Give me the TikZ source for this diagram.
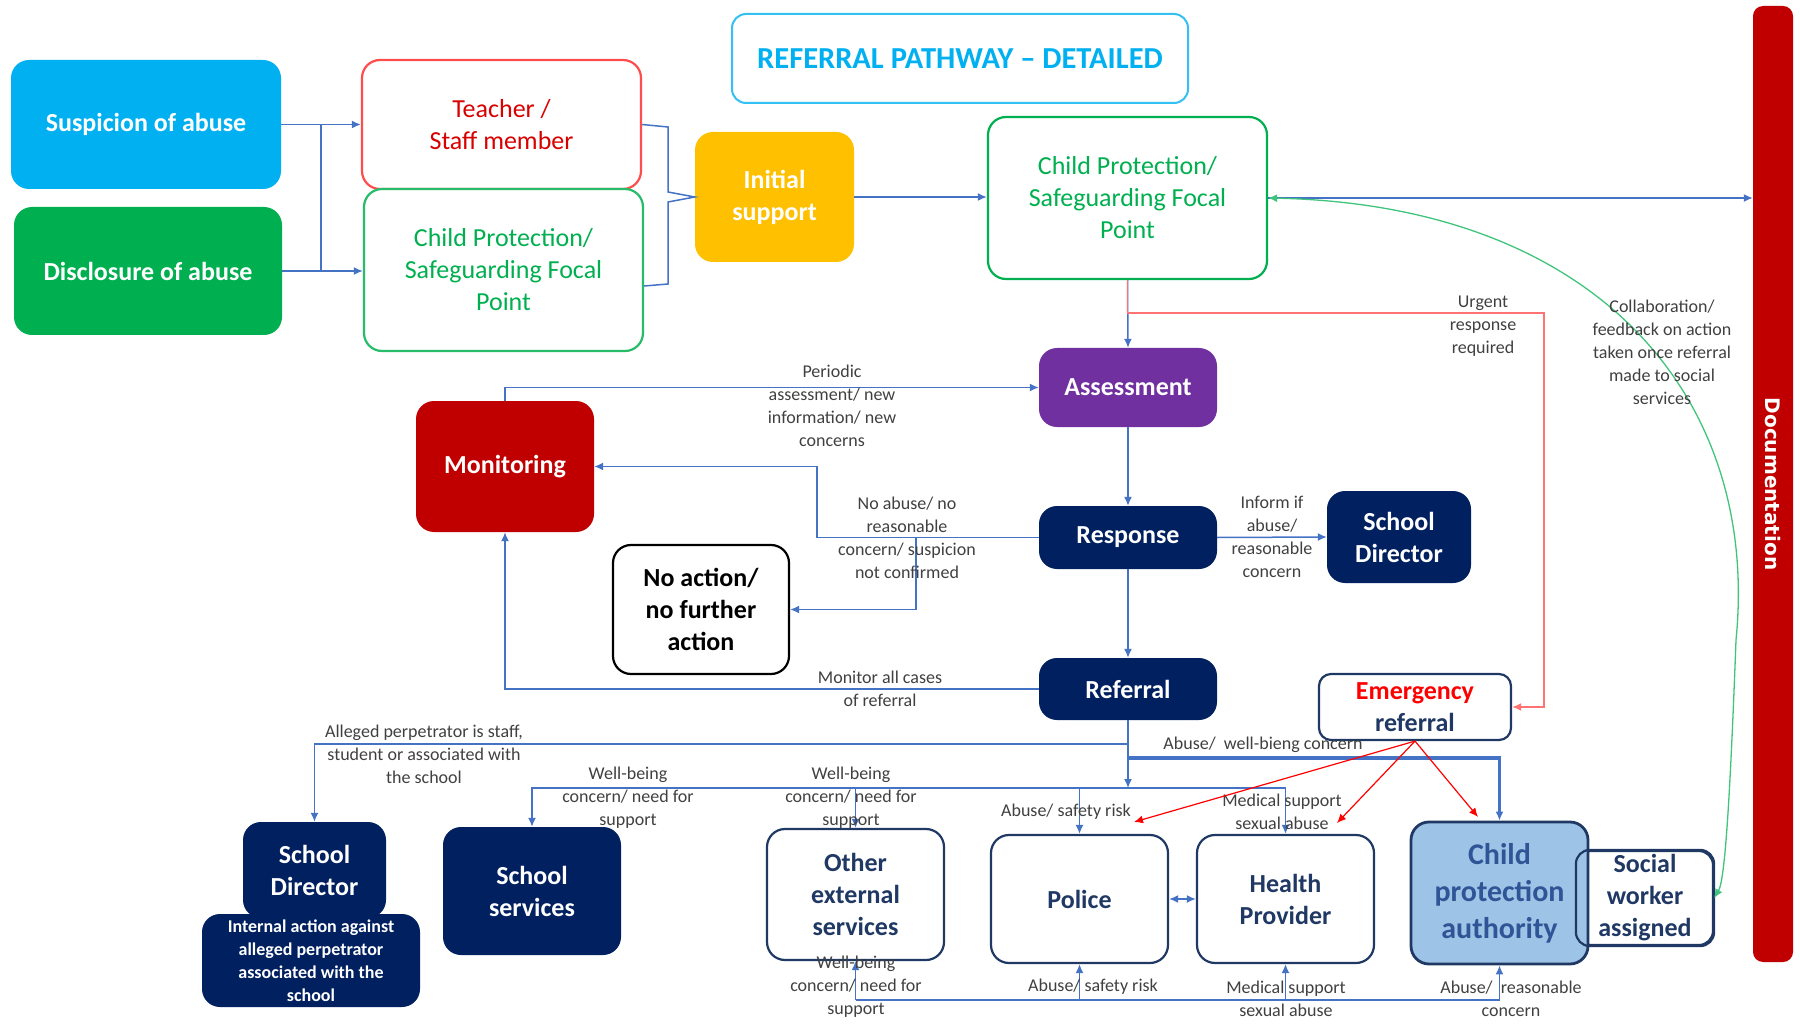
\documentclass[tikz,border=0pt]{standalone}
\usepackage{fontspec}
\setmainfont{Carlito}
\newfontfamily\docfont{DejaVu Sans}
\usetikzlibrary{arrows.meta}

\definecolor{navy}{HTML}{002060}
\definecolor{linkblue}{HTML}{4472C4}
\definecolor{skyfill}{HTML}{00B0F0}
\definecolor{leafgreen}{HTML}{00B050}
\definecolor{amber}{HTML}{FFC000}
\definecolor{plum}{HTML}{7030A0}
\definecolor{darkred}{HTML}{C00000}
\definecolor{paleblue}{HTML}{9DC3E6}
\definecolor{midnavy}{HTML}{2F5597}
\definecolor{edgenavy}{HTML}{203864}
\definecolor{labelgrey}{HTML}{404040}

\tikzset{
  boxsize/.style 2 args={minimum width=#1pt, minimum height=#2pt},
  bigbold/.style={font=\fontsize{26}{32}\selectfont\bfseries},
  bigplain/.style={font=\fontsize{26}{32}\selectfont},
  fillbox/.style={rounded corners=18pt, align=center, text=white, inner sep=0pt, bigbold},
  linebox/.style={rounded corners=18pt, align=center, fill=white, line width=2.2pt, inner sep=0pt},
  whitebox/.style={linebox, draw=edgenavy, text=edgenavy, bigbold},
  lbl/.style={font=\fontsize{18}{23}\selectfont, text=labelgrey, align=center, inner sep=0pt},
  conn/.style={draw=linkblue, line width=1.5pt},
  urgent/.style={draw=red!55, line width=1.6pt},
  emline/.style={draw=red, line width=1.2pt},
  feedback/.style={draw=leafgreen!75, line width=1.3pt}
}

\begin{document}
\begin{tikzpicture}[x=1pt, y=-1pt, >={Latex[length=9pt,width=8pt]}]
\useasboundingbox (0,0) rectangle (1800,1024);

% top row
\node[linebox, draw=skyfill!80, line width=2pt, rounded corners=14pt, text=skyfill,
      font=\fontsize{30.5}{36}\selectfont\bfseries, boxsize={456}{89}] (title) at (960,58.5)
      {REFERRAL PATHWAY -- DETAILED};
\node[fillbox, fill=skyfill, boxsize={270}{129}] (suspicion) at (146,124.5) {Suspicion of abuse};
\node[fillbox, fill=leafgreen, boxsize={268}{128}] (disclosure) at (148,271) {Disclosure of abuse};
\node[linebox, draw=red!70, text=red!85!black, bigplain, boxsize={279}{129}] (teacher) at (501.5,124.5) {Teacher /\\Staff member};
\node[linebox, draw=leafgreen!85, text=leafgreen, bigplain, boxsize={279}{162}] (cpleft) at (503.5,270) {Child Protection/\\Safeguarding Focal\\Point};
\node[fillbox, fill=amber, boxsize={159}{130}] (initial) at (774.5,197) {Initial\\support};
\node[linebox, draw=leafgreen, text=leafgreen, bigplain, boxsize={279}{162}] (cpright) at (1127.5,198) {Child Protection/\\Safeguarding Focal\\Point};

% documentation bar
\node[fill=darkred, rounded corners=10pt, boxsize={40}{956}] (docbar) at (1773,484) {};
\node[rotate=-90, text=white, font=\docfont\fontsize{20}{24}\selectfont\bfseries] (doclabel) at (docbar.center) {Documentation};

% middle column
\node[fillbox, fill=plum, boxsize={178}{79}] (assess) at (1128,387.5) {Assessment};
\node[fillbox, fill=navy, boxsize={178}{63}] (response) at (1128,537.5) {Response};
\node[fillbox, fill=navy, boxsize={178}{62}] (referral) at (1128,689) {Referral};
\node[fillbox, fill=navy, boxsize={144}{92}] (sdright) at (1399,537) {School\\Director};
\node[fillbox, fill=darkred, boxsize={178}{131}] (monitor) at (505,466.5) {Monitoring};
\node[linebox, draw=black, text=black, bigbold, boxsize={176}{129}] (noaction) at (701,609.5) {No action/\\no further\\action};
\node[whitebox, rounded corners=12pt, boxsize={192}{66}] (emerg) at (1415,707) {\textcolor{red}{Emergency}\\referral};

% bottom row
\node[fillbox, fill=navy, boxsize={143}{96}] (sdleft) at (314.5,870) {School\\Director};
\node[fillbox, fill=navy, font=\fontsize{18}{23}\selectfont\bfseries, boxsize={218}{93}] (internal) at (311,960.5)
      {Internal action against\\alleged perpetrator\\associated with the\\school};
\node[fillbox, fill=navy, boxsize={178}{128}] (schoolserv) at (532,891) {School\\services};
\node[whitebox, boxsize={177}{131}] (other) at (855.5,894.5) {Other\\external\\services};
\node[whitebox, boxsize={177}{128}] (police) at (1079.5,899) {Police};
\node[whitebox, boxsize={177}{128}] (health) at (1285.5,899) {Health\\Provider};
\node[whitebox, rounded corners=14pt, boxsize={136}{94}] (social) at (1645,898) {Social\\worker\\assigned};
\node[linebox, fill=paleblue, draw=edgenavy, line width=2.8pt, text=midnavy,
      font=\fontsize{30}{37}\selectfont\bfseries, boxsize={177}{142}] (cpa) at (1499.5,893) {Child\\protection\\authority};
\draw[draw=edgenavy, line width=2.2pt, rounded corners=14pt]
  (social.south west) rectangle (social.north east);

% coordinates
\coordinate (join) at (321,0);
\coordinate (urg) at (1544,313);
\coordinate (busA) at (1128,744);
\coordinate (busB) at (1128,758);
\coordinate (busC) at (1128,788);
\coordinate (bot) at (0,1000);
\coordinate (redP) at (1134,822);
\coordinate (redH) at (1337,823);
\coordinate (redC) at (1478,817);

% entry
\draw[conn,->] (suspicion.east) -- (teacher.west);
\draw[conn,->] (disclosure.east) -- (disclosure.east -| cpleft.west);
\draw[conn] (join |- suspicion.east) -- (join |- disclosure.east);
\draw[conn] (teacher.east) -- (668,127) -- (668,192) -- (initial.west) -- (668,202) -- (668,284) -- ([yshift=-16pt]cpleft.east);
\draw[conn,->,line width=2.2pt] (initial.east) -- (initial.east -| cpright.west);
\draw[conn,->] (cpright.east) -- (cpright.east -| docbar.west);
\draw[feedback,<->] (cpright.east) .. controls (1600,205) and (1760,400) .. (1736,640)
  .. controls (1730,800) and (1725,880) .. (social.east);
\node[lbl] (lblCollab) at (1662,352) {Collaboration/\\feedback on action\\taken once referral\\made to social\\services};

% assessment chain
\draw[conn,->] (cpright.south) -- (assess.north);
\draw[urgent,->] (cpright.south) |- (urg) |- (emerg.east);
\node[lbl] (lblUrgent) at (1483,326) {Urgent\\response\\required};
\draw[conn,->] (assess.south) -- (response.north);
\draw[conn,->] (response.south) -- (referral.north);
\draw[conn,->] (response.east) -- (sdright.west)
  node[lbl, midway] (lblInform) {Inform if\\abuse/\\reasonable\\concern};

% monitoring loops
\draw[conn,->] (monitor.north) |- (assess.west);
\node[lbl] (lblPeriodic) at (832,406) {Periodic\\assessment/ new\\information/ new\\concerns};
\draw[conn,->] (response.west) -- (817,537.5) |- (monitor.east);
\draw[conn,->] (response.west) -- (916,537.5) |- (noaction.east);
\node[lbl] (lblNoAbuse) at (907,538) {No abuse/ no\\reasonable\\concern/ suspicion\\not confirmed};
\draw[conn,->] (referral.west) -| (monitor.south);
\node[lbl] (lblMonitorAll) at (880,689) {Monitor all cases\\of referral};

% referral outputs
\draw[conn,->] (referral.south) -- (busC);
\draw[conn,->] (busA) -| (sdleft.north);
\node[lbl] (lblAlleged) at (424,754) {Alleged perpetrator is staff,\\student or associated with\\the school};
\draw[conn,->,line width=3.5pt] (busB) -| (cpa.north);
\node[lbl] (lblAbuseWell) at (1263,745) {Abuse/~ well-bieng concern};
\draw[conn,->] (busC) -| (schoolserv.north);
\draw[conn,->] (busC) -| (health.north);
\draw[conn,->] (other.north |- busC) -- (other.north);
\draw[conn,->] (police.north |- busC) -- (police.north);
\node[lbl] (lblWell1) at (628,798) {Well-being\\concern/ need for\\support};
\node[lbl] (lblWell2) at (851,798) {Well-being\\concern/ need for\\support};
\node[lbl] (lblSafety1) at (1066,812) {Abuse/ safety risk};
\node[lbl] (lblMedical1) at (1282,812) {Medical support\\sexual abuse};

% emergency referral
\draw[emline,->] (emerg.south) -- (redP);
\draw[emline,->] (emerg.south) -- (redH);
\draw[emline,->] (emerg.south) -- (redC);
\draw[conn,<->] (police.east) -- (health.west);

% feedback bus
\draw[conn] (other.south |- bot) -- (cpa.south |- bot);
\draw[conn,->] (other.south |- bot) -- (other.south);
\draw[conn,->] (police.south |- bot) -- (police.south);
\draw[conn,->] (health.south |- bot) -- (health.south);
\draw[conn,->] (cpa.south |- bot) -- (cpa.south);
\node[lbl] (lblWell3) at (856,987) {Well-being\\concern/ need for\\support};
\node[lbl] (lblSafety2) at (1093,987) {Abuse/ safety risk};
\node[lbl] (lblMedical2) at (1286,999) {Medical support\\sexual abuse};
\node[lbl] (lblAbuseReas) at (1511,999) {Abuse/~ reasonable\\concern};
\end{tikzpicture}
\end{document}
